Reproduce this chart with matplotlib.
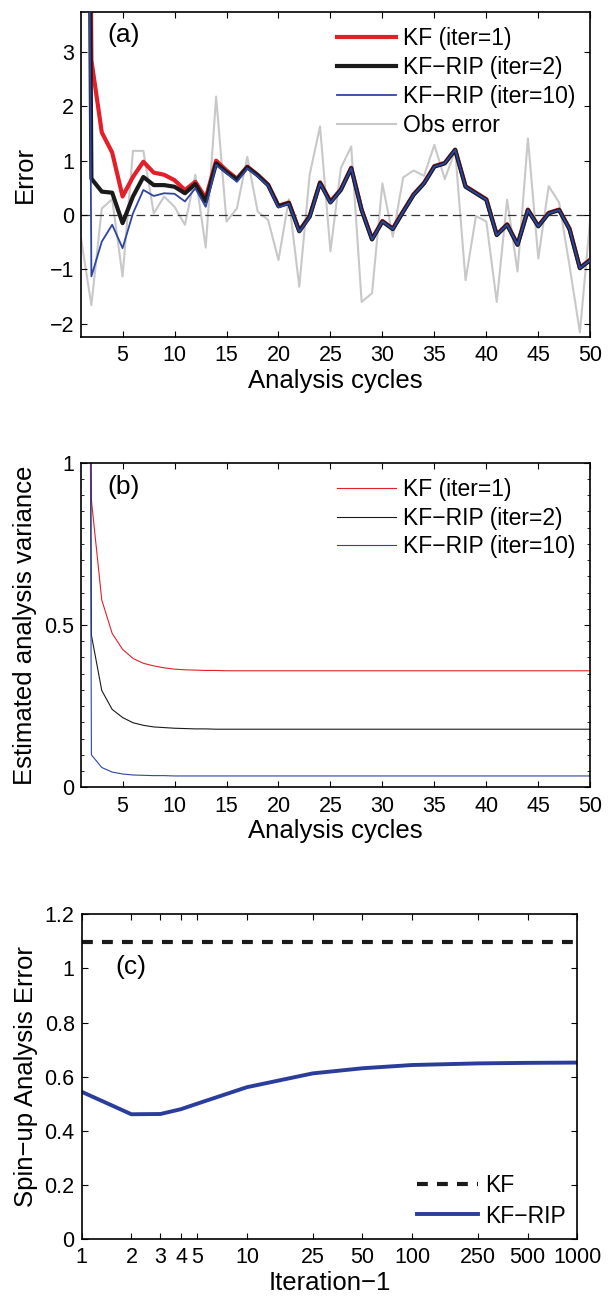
import numpy as np
import matplotlib
matplotlib.use("Agg")
import matplotlib.pyplot as plt
from matplotlib.ticker import FixedLocator, MultipleLocator, NullLocator

plt.rcParams.update({"font.family": ["Liberation Sans", "DejaVu Sans"],
                     "axes.linewidth": 1.2, "xtick.direction": "in", "ytick.direction": "in",
                     "xtick.top": True, "ytick.right": True,
                     "xtick.major.size": 4.5, "ytick.major.size": 4.5,
                     "xtick.minor.size": 2.5, "ytick.minor.size": 2.5,
                     "xtick.major.pad": 6, "ytick.major.pad": 5,
                     "xtick.labelsize": 15.5, "ytick.labelsize": 15.5,
                     "axes.labelsize": 18.5})

RED, BLACK, BLUE, GREY = "#e3202a", "#1a1a1a", "#2f45a3", "#c8c8c8"

# ---- panel (a): analysis error per cycle
cycles = np.arange(1, 51)
err_kf = [30, 2.85, 1.52, 1.15, 0.34, 0.70, 0.98, 0.78, 0.74, 0.64,
          0.46, 0.61, 0.31, 1.00, 0.82, 0.67, 0.89, 0.74, 0.56, 0.17,
          0.23, -0.29, -0.02, 0.60, 0.25, 0.47, 0.87, 0.10, -0.44, -0.11,
          -0.25, 0.07, 0.38, 0.59, 0.90, 0.96, 1.20, 0.53, 0.41, 0.29,
          -0.36, -0.17, -0.54, 0.10, -0.20, 0.04, 0.10, -0.25, -0.97, -0.82]
err_rip2 = [30, 0.67, 0.43, 0.41, -0.15, 0.34, 0.70, 0.55, 0.55, 0.52,
            0.40, 0.57, 0.25, 0.95, 0.79, 0.65, 0.88, 0.73, 0.55, 0.16,
            0.22, -0.30, -0.03, 0.59, 0.23, 0.46, 0.86, 0.09, -0.45, -0.12,
            -0.26, 0.06, 0.37, 0.58, 0.89, 0.95, 1.20, 0.52, 0.40, 0.28,
            -0.37, -0.18, -0.55, 0.09, -0.21, 0.03, 0.09, -0.26, -0.98, -0.83]
err_rip10 = [30, -1.13, -0.49, -0.18, -0.61, 0.03, 0.46, 0.35, 0.40, 0.39,
             0.25, 0.49, 0.15, 0.92, 0.77, 0.61, 0.86, 0.71, 0.54, 0.14,
             0.21, -0.31, -0.04, 0.58, 0.22, 0.46, 0.86, 0.09, -0.45, -0.12,
             -0.26, 0.06, 0.37, 0.58, 0.89, 0.95, 1.20, 0.52, 0.40, 0.28,
             -0.37, -0.18, -0.55, 0.09, -0.21, 0.03, 0.09, -0.26, -0.98, -0.83]
err_obs = [-0.43, -1.66, 0.12, 0.29, -1.13, 1.18, 1.18, 0.03, 0.34, 0.15,
           -0.18, 0.74, -0.60, 2.18, -0.12, 0.12, 1.07, 0.06, -0.09, -0.83,
           0.29, -1.32, 0.74, 1.63, -0.67, 0.86, 1.26, -1.60, -1.44, 0.58,
           -0.40, 0.69, 0.82, 0.72, 1.29, 0.66, 1.18, -1.20, -0.02, -0.12,
           -1.60, 0.28, -1.04, 1.41, -0.80, 0.53, 0.23, -0.93, -2.16, -0.06]

# ---- panel (b): estimated analysis variance
var_kf = [10, 0.885, 0.577, 0.474, 0.425, 0.397, 0.382, 0.374, 0.368, 0.364,
          0.362, 0.361, 0.360, 0.360, 0.359, 0.359, 0.359, 0.359, 0.359, 0.359,
          0.359, 0.359, 0.359, 0.359, 0.359, 0.359, 0.359, 0.359, 0.359, 0.359,
          0.359, 0.359, 0.359, 0.359, 0.359, 0.359, 0.359, 0.359, 0.359, 0.359,
          0.359, 0.359, 0.359, 0.359, 0.359, 0.359, 0.359, 0.359, 0.359, 0.359]
var_rip2 = [10, 0.469, 0.298, 0.240, 0.215, 0.199, 0.191, 0.186, 0.184, 0.182,
            0.181, 0.180, 0.180, 0.179, 0.179, 0.179, 0.179, 0.179, 0.179, 0.179,
            0.179, 0.179, 0.179, 0.179, 0.179, 0.179, 0.179, 0.179, 0.179, 0.179,
            0.179, 0.179, 0.179, 0.179, 0.179, 0.179, 0.179, 0.179, 0.179, 0.179,
            0.179, 0.179, 0.179, 0.179, 0.179, 0.179, 0.179, 0.179, 0.179, 0.179]
var_rip10 = [10, 0.100, 0.061, 0.047, 0.041, 0.038, 0.037, 0.036, 0.036, 0.035,
             0.035, 0.035, 0.035, 0.035, 0.035, 0.035, 0.035, 0.035, 0.035, 0.035,
             0.035, 0.035, 0.035, 0.035, 0.035, 0.035, 0.035, 0.035, 0.035, 0.035,
             0.035, 0.035, 0.035, 0.035, 0.035, 0.035, 0.035, 0.035, 0.035, 0.035,
             0.035, 0.035, 0.035, 0.035, 0.035, 0.035, 0.035, 0.035, 0.035, 0.035]

# ---- panel (c): spin-up error vs iterations
iters = [1, 2, 3, 4, 5, 10, 25, 50, 100, 250, 500, 1000]
spin_rip = [0.544, 0.461, 0.462, 0.480, 0.500, 0.561, 0.612, 0.631, 0.643, 0.649, 0.651, 0.652]
spin_kf = 1.096

fig = plt.figure(figsize=(6.15, 12.96), dpi=100)
ax_a = fig.add_axes([0.1317, 0.7402, 0.8281, 0.2503])
ax_b = fig.add_axes([0.1317, 0.3925, 0.8281, 0.2505])
ax_c = fig.add_axes([0.1328, 0.0440, 0.8059, 0.2505])

leg_kw = dict(frameon=False, fontsize=16.5, handlelength=2.6, handletextpad=0.3,
              labelspacing=0.26, borderaxespad=0.25)

# (a)
ax_a.plot(cycles, err_obs, color=GREY, lw=1.5, label="Obs error", zorder=1)
ax_a.axhline(0, color="#333333", lw=0.9, ls=(0, (7, 4)), zorder=1.5)
ax_a.plot(cycles, err_kf, color=RED, lw=3.0, label="KF (iter=1)", zorder=2)
ax_a.plot(cycles, err_rip2, color=BLACK, lw=3.0, label="KF\u2212RIP (iter=2)", zorder=3)
ax_a.plot(cycles, err_rip10, color=BLUE, lw=1.3, label="KF\u2212RIP (iter=10)", zorder=4)
ax_a.set_xlim(1, 50)
ax_a.set_ylim(-2.24, 3.73)
ax_a.set_xticks(range(5, 51, 5))
ax_a.set_yticks(range(-2, 4))
ax_a.set_yticklabels(["\u22122", "\u22121", "0", "1", "2", "3"])
h, l = ax_a.get_legend_handles_labels()
ax_a.legend([h[1], h[2], h[3], h[0]], [l[1], l[2], l[3], l[0]], loc="upper right", **leg_kw)
ax_a.set_xlabel("Analysis cycles", labelpad=2)
ax_a.set_ylabel("Error")
ax_a.yaxis.set_label_coords(-0.087, 0.5)
ax_a.text(0.051, 0.967, "(a)", transform=ax_a.transAxes, fontsize=19, va="top")

# (b)
ax_b.plot(cycles, var_kf, color=RED, lw=0.8, label="KF (iter=1)")
ax_b.plot(cycles, var_rip2, color=BLACK, lw=0.8, label="KF\u2212RIP (iter=2)")
ax_b.plot(cycles, var_rip10, color=BLUE, lw=0.8, label="KF\u2212RIP (iter=10)")
ax_b.set_xlim(1, 50)
ax_b.set_ylim(0, 1)
ax_b.set_xticks(range(5, 51, 5))
ax_b.set_yticks([0, 0.5, 1])
ax_b.set_yticklabels(["0", "0.5", "1"])
ax_b.yaxis.set_minor_locator(MultipleLocator(0.05))
ax_b.legend(loc="upper right", **leg_kw)
ax_b.set_xlabel("Analysis cycles", labelpad=2)
ax_b.set_ylabel("Estimated analysis variance")
ax_b.yaxis.set_label_coords(-0.087, 0.5)
ax_b.text(0.051, 0.962, "(b)", transform=ax_b.transAxes, fontsize=19, va="top")

# (c)
ax_c.axhline(spin_kf, color=BLACK, lw=3.0, ls=(0, (2.6, 2.2)), label="KF")
ax_c.plot(iters, spin_rip, color="#2b3d9b", lw=2.8, label="KF\u2212RIP")
ax_c.set_xscale("log")
ax_c.set_xlim(1, 1000)
ax_c.set_ylim(0, 1.2)
ax_c.xaxis.set_major_locator(FixedLocator(iters))
ax_c.xaxis.set_minor_locator(NullLocator())
ax_c.set_xticklabels([str(i) for i in iters])
ax_c.set_yticks([0, 0.2, 0.4, 0.6, 0.8, 1.0, 1.2])
ax_c.set_yticklabels(["0", "0.2", "0.4", "0.6", "0.8", "1", "1.2"])
ax_c.legend(loc="lower right", frameon=False, fontsize=16.5, handlelength=2.65,
            handletextpad=0.3, labelspacing=0.32, borderaxespad=0.1)
ax_c.set_xlabel("Iteration\u22121", labelpad=2)
ax_c.set_ylabel("Spin\u2212up Analysis Error")
ax_c.yaxis.set_label_coords(-0.088, 0.5)
ax_c.text(0.067, 0.875, "(c)", transform=ax_c.transAxes, fontsize=19, va="top")

fig.savefig("out.png", dpi=100)
